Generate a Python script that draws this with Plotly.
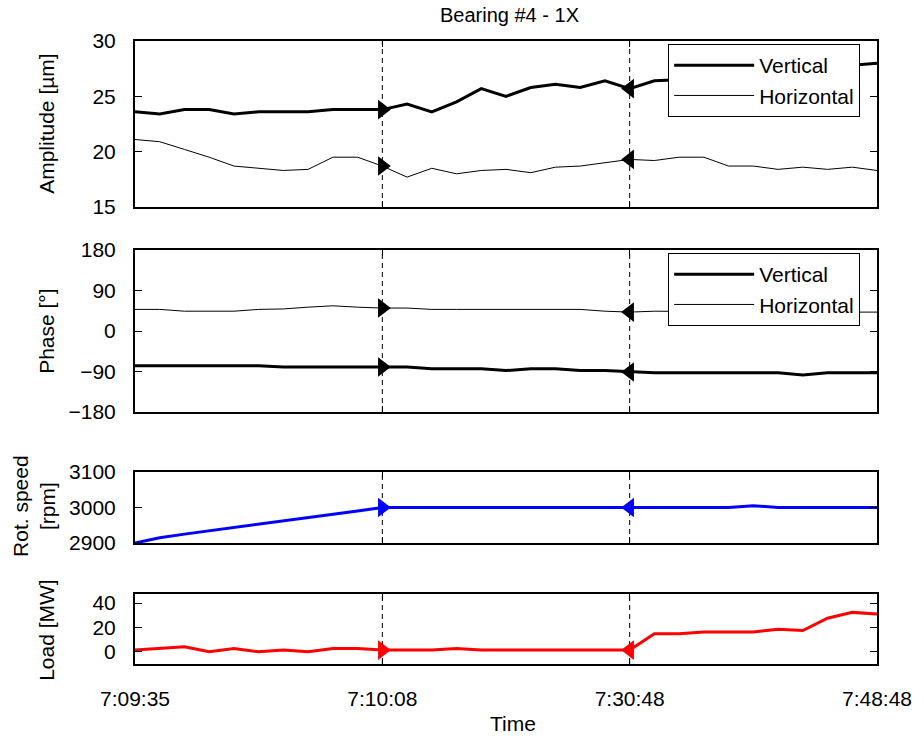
import plotly.graph_objects as go

# Sample index along the time axis (equally spaced records)
idx = list(range(31))
tick_idx = [0, 10, 20, 30]
tick_labels = ["7:09:35", "7:10:08", "7:30:48", "7:48:48"]
event_idx = [10, 20]
event_symbols = ["triangle-right", "triangle-left"]

# 1X amplitude [um]
amp_vertical = [23.6, 23.4, 23.8, 23.8, 23.4, 23.6, 23.6, 23.6, 23.8, 23.8, 23.8,
                24.3, 23.6, 24.5, 25.7, 25.0, 25.8, 26.1, 25.8, 26.4, 25.7,
                26.4, 26.5, 26.9, 27.0, 27.4, 27.3, 27.6, 27.9, 27.8, 28.0]
amp_horizontal = [21.1, 20.9, 20.2, 19.5, 18.7, 18.5, 18.3, 18.4, 19.5, 19.5, 18.7,
                  17.7, 18.5, 18.0, 18.3, 18.4, 18.1, 18.6, 18.7, 19.0, 19.3,
                  19.2, 19.5, 19.5, 18.7, 18.7, 18.4, 18.6, 18.4, 18.6, 18.3]

# 1X phase [deg]
ph_vertical = [-77, -77, -77, -77, -77, -77, -80, -80, -80, -80, -80,
               -80, -84, -84, -84, -88, -84, -84, -88, -88, -91,
               -93, -93, -93, -93, -93, -93, -98, -93, -93, -93]
ph_horizontal = [48, 48, 44, 44, 44, 48, 49, 53, 56, 53, 51,
                 51, 48, 48, 48, 48, 48, 48, 48, 44, 42,
                 44, 44, 43, 43, 42, 42, 41, 41, 41, 42]

# Rotational speed [rpm]
speed = [2900, 2915, 2925, 2934, 2943, 2953, 2962, 2971, 2981, 2990, 3000,
         3000, 3000, 3000, 3000, 3000, 3000, 3000, 3000, 3000, 3000,
         3000, 3000, 3000, 3000, 3005, 3000, 3000, 3000, 3000, 3000]

# Load [MW]
load = [1.4, 2.8, 4.2, 0.0, 2.8, 0.0, 1.4, 0.0, 2.8, 2.8, 1.4,
        1.4, 1.4, 2.8, 1.4, 1.4, 1.4, 1.4, 1.4, 1.4, 1.4,
        14.9, 14.9, 16.3, 16.3, 16.3, 18.6, 17.5, 27.6, 32.4, 31.0]

FONT = "Liberation Sans, Arial, Helvetica, sans-serif"
FS = 21

# Plot-area geometry
L, R, T, B = 135, 40, 41, 74
W, H = 924, 738
PH = H - T - B
PW = W - L - R


def ydom(top_px, bot_px):
    return [(H - B - bot_px) / PH, (H - B - top_px) / PH]


domains = [ydom(41, 207), ydom(250, 412), ydom(472, 543), ydom(594, 664)]

fig = go.Figure()

panels = [
    (1, [(amp_vertical, "Vertical", 3, "black", "legend"),
         (amp_horizontal, "Horizontal", 1, "black", "legend")]),
    (2, [(ph_vertical, "Vertical", 3, "black", "legend2"),
         (ph_horizontal, "Horizontal", 1, "black", "legend2")]),
    (3, [(speed, "Rot. speed", 3, "#0000ff", None)]),
    (4, [(load, "Load", 3, "#ff0000", None)]),
]

for p, series in panels:
    xa = "x" if p == 1 else f"x{p}"
    ya = "y" if p == 1 else f"y{p}"
    for ys, name, lw, col, leg in series:
        tr = dict(x=idx, y=ys, mode="lines", name=name,
                  line=dict(color=col, width=lw),
                  xaxis=xa, yaxis=ya, hoverinfo="skip",
                  showlegend=leg is not None)
        if leg:
            tr["legend"] = leg
        fig.add_trace(go.Scatter(**tr))
        # event markers
        for ei, sym in zip(event_idx, event_symbols):
            fig.add_trace(go.Scatter(
                x=[idx[ei]], y=[ys[ei]], mode="markers",
                marker=dict(symbol=sym, size=17, color=col,
                            line=dict(width=0)),
                xaxis=xa, yaxis=ya, showlegend=False, hoverinfo="skip"))
    # dashed event lines
    for ei in event_idx:
        fig.add_shape(type="line", xref=xa, yref=f"{ya} domain",
                      x0=idx[ei], x1=idx[ei], y0=0, y1=1,
                      line=dict(color="black", width=1, dash="5px,4px"),
                      layer="below")

y_specs = [
    dict(range=[15, 30], tickvals=[15, 20, 25, 30]),
    dict(range=[-180, 180], tickvals=[-180, -90, 0, 90, 180]),
    dict(range=[2900, 3100], tickvals=[2900, 3000, 3100]),
    dict(range=[-10, 47.5], tickvals=[0, 20, 40]),
]

layout = dict(
    width=W, height=H,
    margin=dict(l=L, r=R, t=T, b=B),
    paper_bgcolor="white", plot_bgcolor="white",
    font=dict(family=FONT, size=FS, color="black"),
    title=dict(text="Bearing #4 - 1X", x=(L + PW / 2) / W, xanchor="center",
               y=1 - 15 / H, yanchor="middle",
               font=dict(family=FONT, size=20, color="black")),
)

for p in range(1, 5):
    xk = "xaxis" if p == 1 else f"xaxis{p}"
    yk = "yaxis" if p == 1 else f"yaxis{p}"
    ya = "y" if p == 1 else f"y{p}"
    layout[xk] = dict(
        domain=[0, 1], range=[0, 30], anchor=ya,
        tickmode="array", tickvals=tick_idx, ticktext=tick_labels,
        showticklabels=(p == 4), ticks="inside", ticklen=6, tickwidth=1,
        tickcolor="black", showline=True, linecolor="black", linewidth=2,
        mirror="ticks", showgrid=False, zeroline=False,
        ticklabelstandoff=15, ticklabeloverflow="allow",
        tickfont=dict(family=FONT, size=FS, color="black"),
    )
    if p != 1:
        layout[xk]["matches"] = "x"
    spec = y_specs[p - 1]
    layout[yk] = dict(
        domain=domains[p - 1], range=spec["range"], anchor="x" if p == 1 else f"x{p}",
        tickmode="array", tickvals=spec["tickvals"],
        ticks="inside", ticklen=7, tickwidth=1, tickcolor="black",
        showline=True, linecolor="black", linewidth=2, mirror="ticks",
        showgrid=False, zeroline=False, ticklabelstandoff=13,
        tickfont=dict(family=FONT, size=FS, color="black"),
    )

legend_common = dict(
    bgcolor="white", bordercolor="black", borderwidth=1,
    font=dict(family=FONT, size=FS, color="black"),
    xanchor="right", yanchor="top", x=1 - 17 / PW,
    itemwidth=80, tracegroupgap=0,
)
layout["legend"] = dict(legend_common, y=(H - B - 44) / PH)
layout["legend2"] = dict(legend_common, y=(H - B - 253) / PH)

fig.update_layout(**layout)


def px_x(px):
    return (px - L) / PW


def px_y(py):
    return (H - B - py) / PH


y_titles = [
    ("Amplitude [µm]", 45, 124),
    ("Phase [°]", 45, 331),
    ("Rot. speed<br>[rpm]", 33, 506),
    ("Load [MW]", 45, 630),
]
for txt, cx, cy in y_titles:
    fig.add_annotation(text=txt, x=px_x(cx), y=px_y(cy), xref="paper", yref="paper",
                       textangle=-90, showarrow=False, xanchor="center", yanchor="middle",
                       font=dict(family=FONT, size=FS, color="black"))

fig.add_annotation(text="Time", x=px_x(517), y=px_y(723), xref="paper", yref="paper",
                   showarrow=False, xanchor="center", yanchor="middle",
                   font=dict(family=FONT, size=FS, color="black"))

fig.write_html("out.html")
